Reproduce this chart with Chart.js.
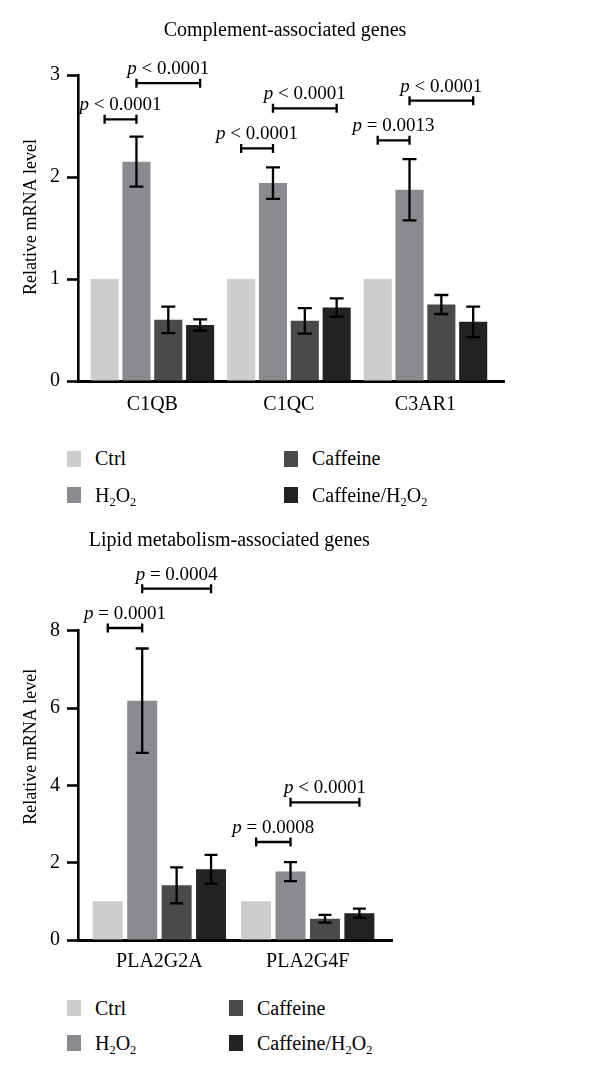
<!DOCTYPE html>
<html>
<head>
<meta charset="utf-8">
<script src="https://cdn.jsdelivr.net/npm/chart.js@4.4.1/dist/chart.umd.min.js"></script>
<style>
  body { margin: 0; background: #fff; font-family: "Liberation Serif", serif; }
  .panel { position: absolute; left: 0; width: 600px; }
  .legend { position: absolute; left: 0; top: 0; width: 600px; height: 0; font-size: 20px; color: #000; }
  .item { position: absolute; display: flex; align-items: center; height: 24px; white-space: nowrap; }
  .sw { width: 14px; height: 16px; margin-right: 14px; flex: none; }
  sub { font-size: 0.62em; vertical-align: -0.3em; line-height: 0; }
</style>
</head>
<body>
<div class="panel" style="top:0;height:430px"><canvas id="complement"></canvas></div>
<div class="panel" style="top:500px;height:480px"><canvas id="lipid"></canvas></div>
<div class="legend" id="legendTop"></div>
<div class="legend" id="legendBottom"></div>
<script>
const seriesNames = ['Ctrl', 'H₂O₂', 'Caffeine', 'Caffeine/H₂O₂'];
const seriesColors = ['#cdcdcd', '#8a8a8f', '#4a4a4a', '#222222'];

// complement-associated genes
const complementGenes = ['C1QB', 'C1QC', 'C3AR1'];
const complementCtrl = [1, 1, 1];
const complementH2O2 = [2.15, 1.94, 1.875];
const complementCaffeine = [0.60, 0.59, 0.75];
const complementCaffH2O2 = [0.55, 0.72, 0.58];
const complementErrCtrl = [0, 0, 0];
const complementErrH2O2 = [0.245, 0.155, 0.30];
const complementErrCaffeine = [0.13, 0.125, 0.093];
const complementErrCaffH2O2 = [0.055, 0.09, 0.15];
const complementTicks = [0, 1, 2, 3];
const complementP = [
  { gene: 0, from: 0, to: 1, level: 2.565, text: '< 0.0001' },
  { gene: 0, from: 1, to: 3, level: 2.92, text: '< 0.0001' },
  { gene: 1, from: 0, to: 1, level: 2.28, text: '< 0.0001' },
  { gene: 1, from: 1, to: 3, level: 2.673, text: '< 0.0001' },
  { gene: 2, from: 0, to: 1, level: 2.36, text: '= 0.0013' },
  { gene: 2, from: 1, to: 3, level: 2.748, text: '< 0.0001' }
];

// lipid metabolism-associated genes
const lipidGenes = ['PLA2G2A', 'PLA2G4F'];
const lipidCtrl = [1, 1];
const lipidH2O2 = [6.19, 1.77];
const lipidCaffeine = [1.415, 0.55];
const lipidCaffH2O2 = [1.83, 0.69];
const lipidErrCtrl = [0, 0];
const lipidErrH2O2 = [1.35, 0.245];
const lipidErrCaffeine = [0.465, 0.10];
const lipidErrCaffH2O2 = [0.37, 0.12];
const lipidTicks = [0, 2, 4, 6, 8];
const lipidP = [
  { gene: 0, from: 0, to: 1, level: 8.07, text: '= 0.0001' },
  { gene: 0, from: 1, to: 3, level: 9.087, text: '= 0.0004' },
  { gene: 1, from: 0, to: 1, level: 2.535, text: '= 0.0008' },
  { gene: 1, from: 1, to: 3, level: 3.562, text: '< 0.0001' }
];

const FONT = '"Liberation Serif", serif';
Chart.defaults.font.family = FONT;
Chart.defaults.color = '#000';

function extras(errors, pvals, opt) {
  return {
    id: 'extras',
    afterLayout(chart) {
      // keep the category bands a little inside the axis lines
      const x = chart.scales.x;
      x._startPixel = x.left + opt.inset[0];
      x._endPixel = x.right - opt.inset[1];
      x._length = x._endPixel - x._startPixel;
      // title is centred from the tick marks, not from the axis line
      chart.titleBlock.left = chart.scales.y.right - 12;
    },
    afterDatasetsDraw(chart) {
      const ctx = chart.ctx;
      const y = chart.scales.y;
      ctx.save();
      ctx.strokeStyle = '#000';
      ctx.lineWidth = 2.3;
      // error bars
      chart.data.datasets.forEach((ds, i) => {
        const meta = chart.getDatasetMeta(i);
        ds.data.forEach((v, j) => {
          const e = errors[i][j];
          if (!e) return;
          const bx = meta.data[j].x;
          const yt = y.getPixelForValue(v + e);
          const yb = y.getPixelForValue(v - e);
          ctx.beginPath();
          ctx.moveTo(bx, yt); ctx.lineTo(bx, yb);
          ctx.moveTo(bx - opt.cap, yt); ctx.lineTo(bx + opt.cap, yt);
          ctx.moveTo(bx - opt.cap, yb); ctx.lineTo(bx + opt.cap, yb);
          ctx.stroke();
        });
      });
      // significance brackets
      ctx.fillStyle = '#000';
      ctx.textBaseline = 'alphabetic';
      pvals.forEach(p => {
        const xa = chart.getDatasetMeta(p.from).data[p.gene].x;
        const xb = chart.getDatasetMeta(p.to).data[p.gene].x;
        const yy = y.getPixelForValue(p.level);
        ctx.beginPath();
        ctx.moveTo(xa, yy); ctx.lineTo(xb, yy);
        ctx.moveTo(xa, yy - 4.5); ctx.lineTo(xa, yy + 4.5);
        ctx.moveTo(xb, yy - 4.5); ctx.lineTo(xb, yy + 4.5);
        ctx.stroke();
        ctx.font = 'italic 19px ' + FONT;
        const wp = ctx.measureText('p').width;
        ctx.font = '19px ' + FONT;
        const rest = ' ' + p.text;
        const wr = ctx.measureText(rest).width;
        const x0 = (xa + xb) / 2 - (wp + wr) / 2;
        ctx.textAlign = 'left';
        ctx.font = 'italic 19px ' + FONT;
        ctx.fillText('p', x0, yy - 9);
        ctx.font = '19px ' + FONT;
        ctx.fillText(rest, x0 + wp, yy - 9);
      });
      ctx.restore();
    },
    afterDraw(chart) {
      const ctx = chart.ctx;
      ctx.save();
      ctx.translate(31, chart.scales.y.getPixelForValue(opt.yTitleAt));
      ctx.rotate(-Math.PI / 2);
      ctx.font = '18px ' + FONT;
      ctx.fillStyle = '#000';
      ctx.textAlign = 'center';
      ctx.textBaseline = 'middle';
      ctx.fillText('Relative mRNA level', 0, 0);
      ctx.restore();
    }
  };
}

function makeChart(id, genes, values, errors, ticks, pvals, opt) {
  return new Chart(document.getElementById(id), {
    type: 'bar',
    data: {
      labels: genes,
      datasets: seriesNames.map((name, i) => ({
        label: name,
        data: values[i],
        backgroundColor: seriesColors[i],
        borderWidth: 0,
        categoryPercentage: opt.catPct,
        barPercentage: opt.barPct
      }))
    },
    options: {
      responsive: true,
      maintainAspectRatio: false,
      animation: false,
      layout: { padding: { left: 0, right: opt.padRight, top: 0, bottom: 0 } },
      plugins: {
        legend: { display: false },
        tooltip: { enabled: false },
        title: {
          display: true,
          text: opt.title,
          fullSize: false,
          color: '#000',
          font: { size: 20, weight: 'normal' },
          padding: { top: opt.titleTop, bottom: opt.titleBottom }
        }
      },
      scales: {
        x: {
          grid: { display: false, drawTicks: false },
          border: { color: '#000', width: 3 },
          ticks: { color: '#000', font: { size: 20 }, padding: opt.xPad },
          afterFit: s => { s.height = opt.xHeight; }
        },
        y: {
          min: ticks[0],
          max: ticks[ticks.length - 1],
          afterBuildTicks: s => { s.ticks = ticks.map(v => ({ value: v })); },
          ticks: { color: '#000', font: { size: 20 }, padding: 7 },
          grid: { drawOnChartArea: false, tickLength: 11, tickWidth: 2.6, tickColor: '#000' },
          border: { color: '#000', width: 2.6 },
          afterFit: s => { s.width = 78; }
        }
      }
    },
    plugins: [extras(errors, pvals, opt)]
  });
}

makeChart('complement', complementGenes,
  [complementCtrl, complementH2O2, complementCaffeine, complementCaffH2O2],
  [complementErrCtrl, complementErrH2O2, complementErrCaffeine, complementErrCaffH2O2],
  complementTicks, complementP,
  { title: 'Complement-associated genes', titleTop: 19, titleBottom: 32,
    padRight: 96, xHeight: 49, xPad: 12, inset: [6.1, 10.3],
    catPct: 0.9326, barPct: 0.8825, cap: 7, yTitleAt: 1.607 });

makeChart('lipid', lipidGenes,
  [lipidCtrl, lipidH2O2, lipidCaffeine, lipidCaffH2O2],
  [lipidErrCtrl, lipidErrH2O2, lipidErrCaffeine, lipidErrCaffH2O2],
  lipidTicks, lipidP,
  { title: 'Lipid metabolism-associated genes', titleTop: 28.5, titleBottom: 78.2,
    padRight: 207.3, xHeight: 40, xPad: 9.7, inset: [7.25, 10.8],
    catPct: 0.9285, barPct: 0.871, cap: 6.5, yTitleAt: 5.0 });

function buildLegend(id, colX, rowY) {
  const box = document.getElementById(id);
  seriesNames.forEach((name, i) => {
    const item = document.createElement('div');
    item.className = 'item';
    item.style.left = colX[Math.floor(i / 2)] + 'px';
    item.style.top = (rowY[i % 2] - 12) + 'px';
    const sw = document.createElement('span');
    sw.className = 'sw';
    sw.style.background = seriesColors[i];
    const label = document.createElement('span');
    label.innerHTML = name.replace(/₂/g, '<sub>2</sub>');
    item.appendChild(sw);
    item.appendChild(label);
    box.appendChild(item);
  });
}
buildLegend('legendTop', [67, 284], [458.7, 495]);
buildLegend('legendBottom', [67, 229], [1008, 1043]);
</script>
</body>
</html>
